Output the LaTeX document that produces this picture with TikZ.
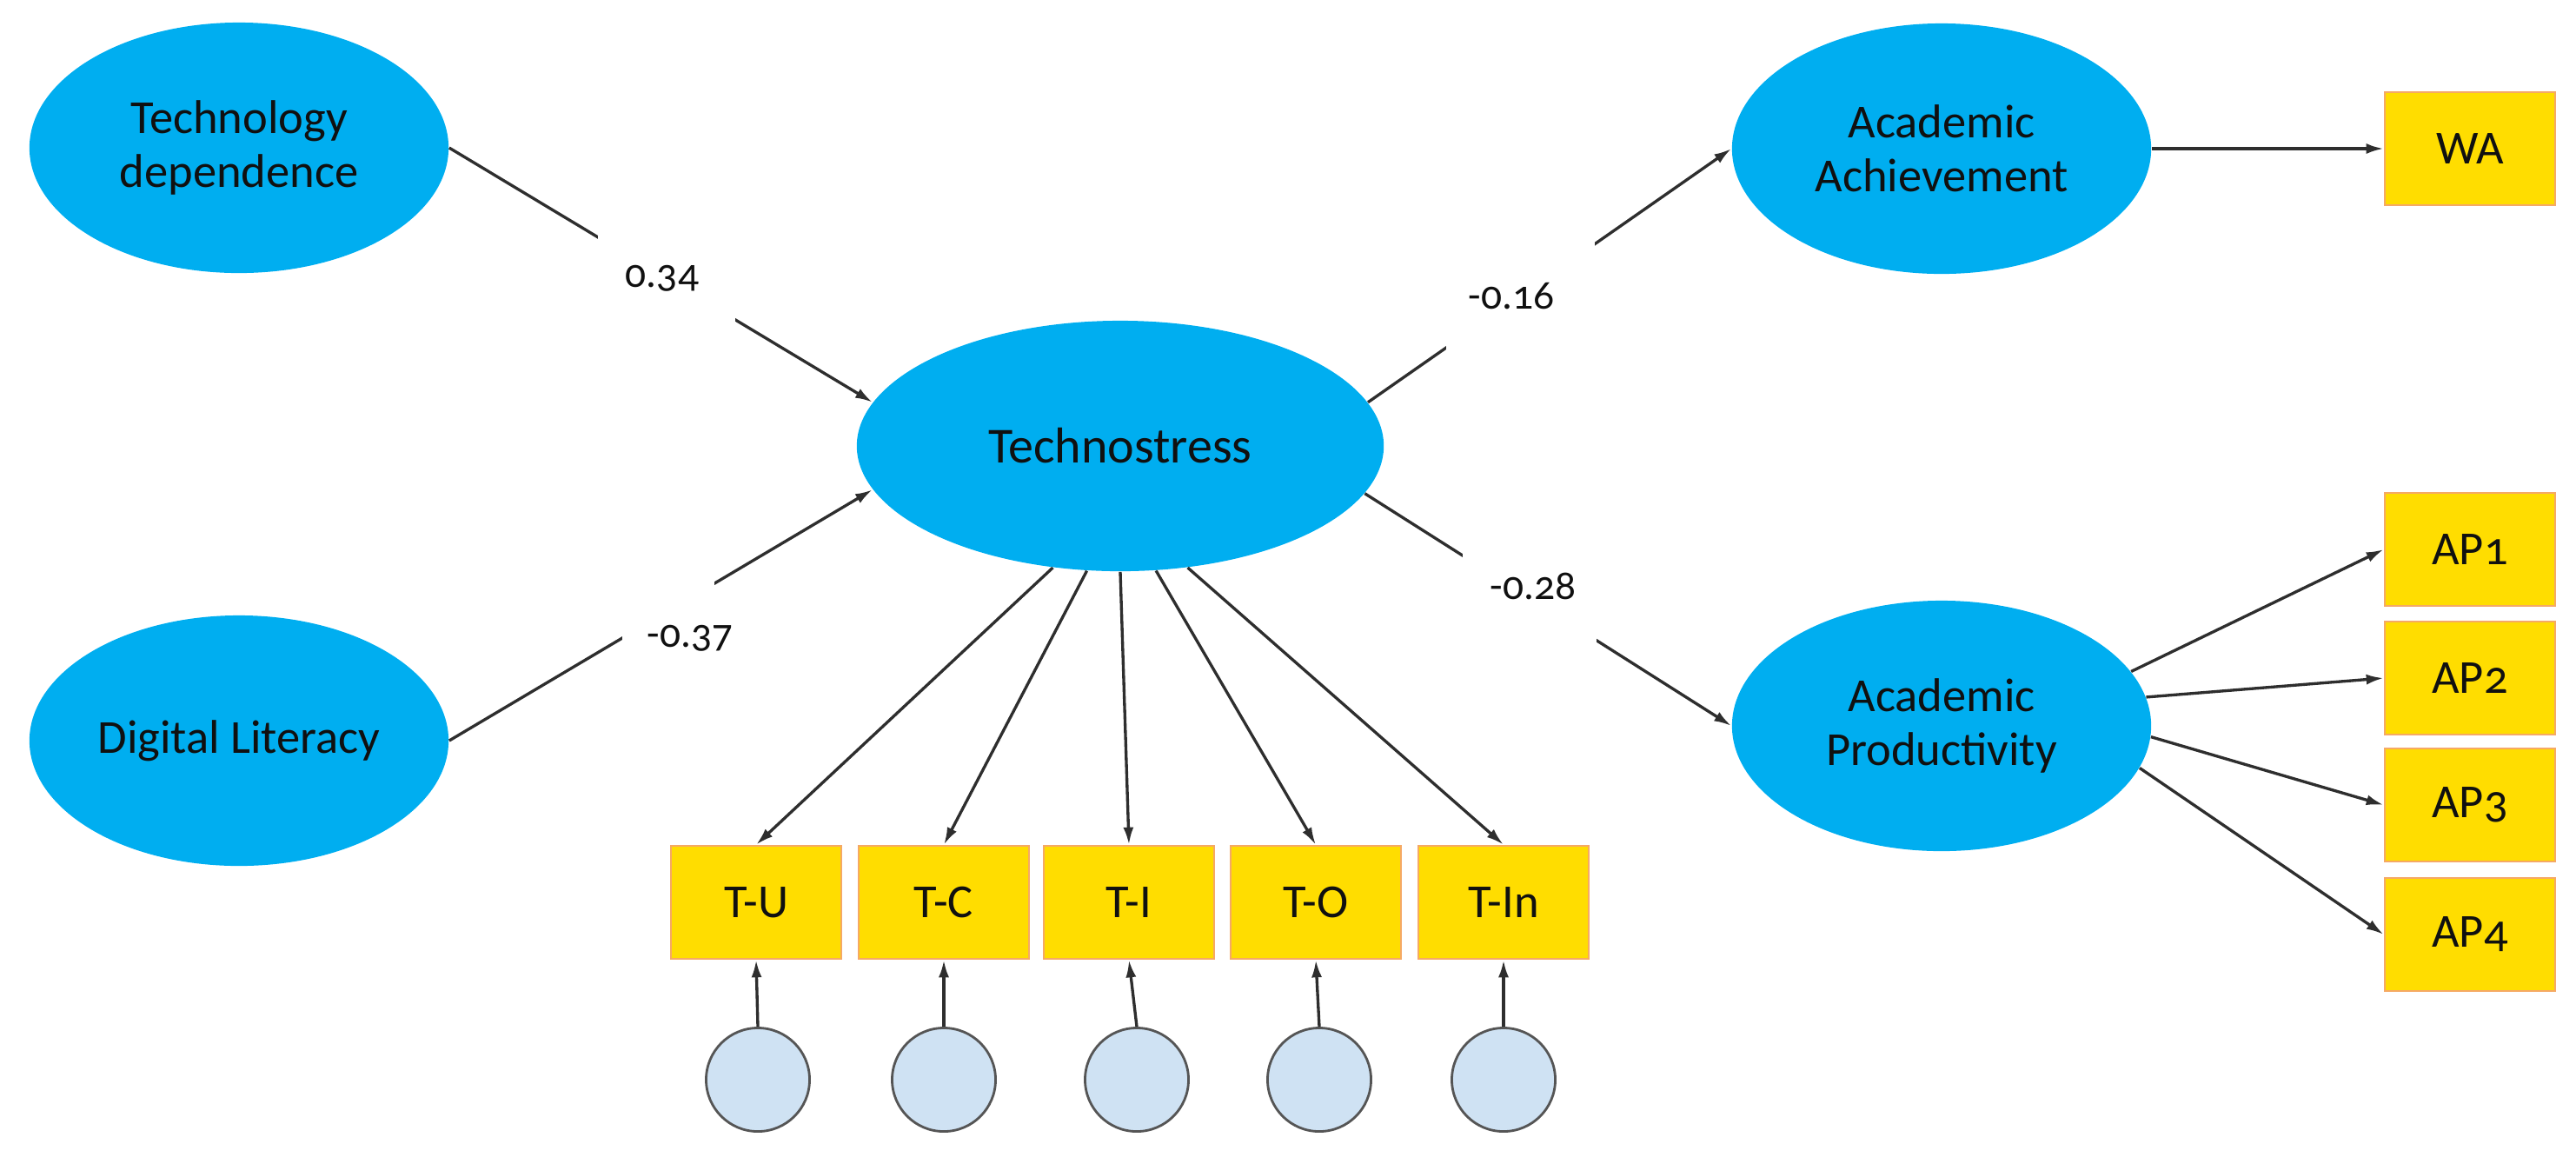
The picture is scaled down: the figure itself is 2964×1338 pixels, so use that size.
\documentclass[tikz,border=0pt]{standalone}
\usepackage{fontspec}
\setmainfont{Carlito}[Numbers=OldStyle]
\usetikzlibrary{shapes.geometric,arrows.meta}
\definecolor{ellblue}{HTML}{00AEF0}
\definecolor{boxfill}{HTML}{FFDD00}
\definecolor{boxedge}{HTML}{F5A965}
\definecolor{errfill}{HTML}{CFE2F3}
\definecolor{errdraw}{HTML}{555555}
\definecolor{linec}{HTML}{2E2E2E}
\definecolor{txt}{HTML}{101010}
\begin{document}
\begin{tikzpicture}[x=0.01cm,y=-0.01cm,
  lat/.style={ellipse, fill=ellblue, draw=none, minimum width=4.82cm, minimum height=2.88cm,
    inner sep=0pt, align=center, font=\fontsize{15.5}{17.5}\selectfont, text=txt},
  obs/.style={rectangle, fill=boxfill, draw=boxedge, line width=0.7pt, minimum width=1.96cm,
    minimum height=1.30cm, inner sep=0pt, font=\fontsize{15.5}{17.5}\selectfont, text=txt},
  err/.style={circle, fill=errfill, draw=errdraw, line width=0.8pt, minimum size=1.19cm, inner sep=0pt},
  arr/.style={draw=linec, line width=0.95pt, -{Latex[length=0.2cm,width=0.12cm]}},
  gapbox/.style 2 args={fill=white, inner sep=0pt, minimum width=#1cm, minimum height=#2cm},
  lbl/.style={font=\fontsize{13.5}{15}\selectfont, text=txt, inner sep=0pt}
]
\useasboundingbox (0,0) rectangle (2964,1338);

% latent variables
\node[lat] (TD) at (275,170) {Technology\\dependence};
\node[lat] (DL) at (275,852) {Digital Literacy};
\node[lat, minimum width=6.06cm, font=\fontsize{16.5}{18}\selectfont] (TS) at (1289,513) {Technostress};
\node[lat] (AA) at (2234,171) {Academic\\Achievement};
\node[lat] (AP) at (2234,835) {Academic\\Productivity};

% indicators
\node[obs] (TU) at (870,1038) {T-U};
\node[obs] (TC) at (1086,1038) {T-C};
\node[obs] (TI) at (1299,1038) {T-I};
\node[obs] (TO) at (1514,1038) {T-O};
\node[obs] (TN) at (1730,1038) {T-In};
\node[obs] (WA) at (2842,171) {WA};
\node[obs] (AP1) at (2842,632) {AP1};
\node[obs] (AP2) at (2842,780) {AP2};
\node[obs] (AP3) at (2842,926) {AP3};
\node[obs] (AP4) at (2842,1075) {AP4};

% error terms
\node[err] (eU) at (872,1242) {};
\node[err] (eC) at (1086,1242) {};
\node[err] (eI) at (1308,1242) {};
\node[err] (eO) at (1518,1242) {};
\node[err] (eN) at (1730,1242) {};

% structural paths (with gaps for labels)
\draw[arr] (TD.east) -- node[gapbox={1.58}{1.07}, pos=0.514] {} (TS.170.9);
\draw[arr] (DL.east) -- node[gapbox={1.06}{0.72}, pos=0.518] {} (TS.190.4);
\draw[arr] (TS.10.6) -- node[gapbox={1.71}{1.27}, pos=0.42] {} (AA.west);
\draw[arr] (TS.-11.4) -- node[gapbox={1.54}{1.06}, pos=0.45] {} (AP.west);

\node[lbl] (l1) at (762,320) {0.34};
\node[lbl] (l2) at (794,734) {-0.37};
\node[lbl] (l3) at (1739,341) {-0.16};
\node[lbl] (l4) at (1764,674) {-0.28};

% measurement paths
\draw[arr] (TS.241.8) -- (TU.north);
\draw[arr] (TS.255.6) -- (TC.north);
\draw[arr] (TS.270) -- (TI.north);
\draw[arr] (TS.286.5) -- (TO.north);
\draw[arr] (TS.299.1) -- (TN.north);

\draw[arr] (AA.east) -- (WA.west);
\draw[arr] (AP.16.8) -- (AP1.west);
\draw[arr] (AP.8.1) -- (AP2.west);
\draw[arr] (AP.-3.4) -- (AP3.west);
\draw[arr] (AP.-12.4) -- (AP4.west);

% error arrows
\draw[arr] (eU.north) -- (TU.south);
\draw[arr] (eC.north) -- (TC.south);
\draw[arr] (eI.north) -- (TI.south);
\draw[arr] (eO.north) -- (TO.south);
\draw[arr] (eN.north) -- (TN.south);
\end{tikzpicture}
\end{document}
